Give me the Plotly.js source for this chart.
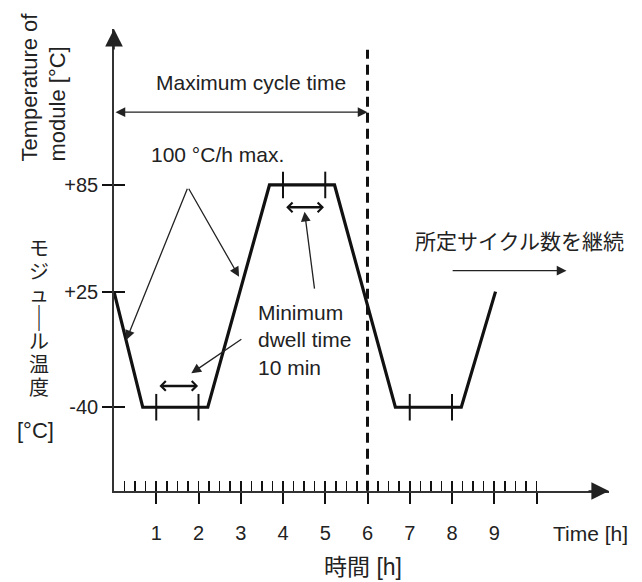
<!DOCTYPE html>
<html><head><meta charset="utf-8">
<script src="https://cdn.plot.ly/plotly-3.0.1.min.js"></script>
<style>html,body{margin:0;padding:0;background:#fff}</style>
</head><body><div id="chart" style="width:642px;height:582px"></div>
<script>
// ---- data ----
const profileTime = [0, 0.68, 2.22, 3.68, 5.22, 6.66, 8.22, 9.03];
const profileTemp = [25, -40, -40, 85, 85, -40, -40, 25];
const dwellMarkTime = [1, 2, 4, 5, 7, 8];
const dwellMarkTemp = [-40, -40, 85, 85, -40, -40];
const cycleLimitTime = [6, 6];
const cycleLimitTemp = [-87, 161];
const yTickVals = [-40, 25, 85];
const yTickText = ['-40', '+25', '+85'];
const xTickVals = [1, 2, 3, 4, 5, 6, 7, 8, 9, 10];
const xTickText = ['1', '2', '3', '4', '5', '6', '7', '8', '9', ''];
const yTitleJpChars = ['モ', 'ジ', 'ュ', '│', 'ル', '温', '度'];
const xRange = [0, 11.716];
const yRange = [-87.1, 172.7];

const xMinorVals = [];
for (let q = 1; q <= 40; q++) xMinorVals.push(q / 4);

const LAT = 'Liberation Sans, Arial, sans-serif';
const JP = '"Noto Sans CJK JP", sans-serif';
const INK = '#111';
const AX = '#333';

const traces = [
  { x: cycleLimitTime, y: cycleLimitTemp, mode: 'lines', type: 'scatter',
    line: { color: INK, width: 3, dash: '10px,6px' }, hoverinfo: 'skip' },
  { x: profileTime, y: profileTemp, mode: 'lines', type: 'scatter',
    line: { color: INK, width: 3.2 }, hoverinfo: 'skip' },
  { x: dwellMarkTime, y: dwellMarkTemp, mode: 'markers', type: 'scatter',
    xaxis: 'x2', yaxis: 'y2',
    marker: { symbol: 'line-ns', size: 19, color: INK, line: { color: INK, width: 2 } },
    hoverinfo: 'skip' }
];

function px2paperX(p) { return (p - 114) / 495; }
function px2paperY(p) { return (491 - p) / 462; }

const ann = [];
// axis arrowheads
ann.push({ xref: 'paper', yref: 'paper', x: 0, y: 1, ax: 0, ay: 22, text: '', showarrow: true,
  arrowhead: 2, arrowsize: 2.2, arrowwidth: 1.6, arrowcolor: '#222' });
ann.push({ xref: 'paper', yref: 'paper', x: 1, y: 0, ax: -22, ay: 0, text: '', showarrow: true,
  arrowhead: 2, arrowsize: 2.2, arrowwidth: 1.6, arrowcolor: '#222' });
// maximum cycle time
ann.push({ x: 6, y: 125.9, ax: 0, ay: 125.9, axref: 'x', ayref: 'y', text: '', showarrow: true,
  arrowside: 'end+start', arrowhead: 2, startarrowhead: 2, arrowsize: 1.5, startarrowsize: 1.5,
  arrowwidth: 1.3, arrowcolor: '#222' });
ann.push({ x: 3.25, y: 142.7, xanchor: 'center', yanchor: 'middle', text: 'Maximum cycle time', showarrow: false,
  font: { family: LAT, size: 21, color: '#222' } });
// 100 °C/h max.
ann.push({ x: 2.46, y: 101.9, xanchor: 'center', yanchor: 'middle', text: '100 °C/h max.', showarrow: false,
  font: { family: LAT, size: 21, color: '#222' } });
ann.push({ x: 0.29, y: -2.2, ax: 1.75, ay: 83.7, axref: 'x', ayref: 'y', text: '', showarrow: true,
  arrowhead: 2, arrowsize: 1.5, arrowwidth: 1.3, arrowcolor: '#222' });
ann.push({ x: 2.96, y: 33.4, ax: 1.75, ay: 83.7, axref: 'x', ayref: 'y', text: '', showarrow: true,
  arrowhead: 2, arrowsize: 1.5, arrowwidth: 1.3, arrowcolor: '#222' });
// dwell double arrows
ann.push({ x: 1.99, y: -28, ax: 1.04, ay: -28, axref: 'x', ayref: 'y', text: '', showarrow: true,
  arrowside: 'end+start', arrowhead: 4, startarrowhead: 4, arrowsize: 0.75, startarrowsize: 0.75,
  arrowwidth: 2.5, arrowcolor: INK });
ann.push({ x: 4.97, y: 72.4, ax: 4.04, ay: 72.4, axref: 'x', ayref: 'y', text: '', showarrow: true,
  arrowside: 'end+start', arrowhead: 4, startarrowhead: 4, arrowsize: 0.75, startarrowsize: 0.75,
  arrowwidth: 2.5, arrowcolor: INK });
// minimum dwell time
ann.push({ x: 3.35, y: -2.2, xanchor: 'left', yanchor: 'middle', align: 'left',
  text: 'Minimum<br>dwell time<br>10 min', showarrow: false,
  font: { family: LAT, size: 21, color: '#222' } });
ann.push({ x: 4.51, y: 70, ax: 4.75, ay: 25.9, axref: 'x', ayref: 'y', text: '', showarrow: true,
  arrowhead: 2, arrowsize: 1.5, arrowwidth: 1.3, arrowcolor: '#222' });
ann.push({ x: 1.83, y: -20.9, ax: 3.05, ay: -1.2, axref: 'x', ayref: 'y', text: '', showarrow: true,
  arrowhead: 2, arrowsize: 1.5, arrowwidth: 1.3, arrowcolor: '#222' });
// continue cycles
ann.push({ x: 9.60, y: 54, xanchor: 'center', yanchor: 'middle', text: '所定サイクル数を継続', showarrow: false,
  font: { family: JP, size: 21, color: '#222' } });
ann.push({ x: 10.71, y: 36.8, ax: 7.98, ay: 36.8, axref: 'x', ayref: 'y', text: '', showarrow: true,
  arrowhead: 2, arrowsize: 1.5, arrowwidth: 1.3, arrowcolor: '#222' });
// axis titles
ann.push({ xref: 'paper', yref: 'paper', x: px2paperX(43), y: px2paperY(87.5), xanchor: 'center', yanchor: 'middle',
  text: 'Temperature of<br>module [°C]', textangle: -90, align: 'left', showarrow: false,
  font: { family: LAT, size: 22, color: '#222' } });
// vertical Japanese title, one character per line slot
const jpTop = 247, jpPitch = 23.3;
yTitleJpChars.forEach(function (ch, i) {
  ann.push({ xref: 'paper', yref: 'paper', x: px2paperX(39), y: px2paperY(jpTop + i * jpPitch),
    xanchor: 'center', yanchor: 'middle', text: ch, showarrow: false,
    font: { family: JP, size: ch === '│' ? 26 : 20, color: '#222' } });
});
ann.push({ xref: 'paper', yref: 'paper', x: px2paperX(35), y: px2paperY(430), xanchor: 'center', yanchor: 'middle',
  text: '[°C]', showarrow: false, font: { family: LAT, size: 22, color: '#222' } });
ann.push({ xref: 'paper', yref: 'paper', x: px2paperX(590.5), y: px2paperY(533), xanchor: 'center', yanchor: 'middle',
  text: 'Time [h]', showarrow: false, font: { family: LAT, size: 21, color: '#222' } });
ann.push({ xref: 'paper', yref: 'paper', x: px2paperX(363), y: px2paperY(567), xanchor: 'center', yanchor: 'middle',
  text: '時間 [h]', showarrow: false, font: { family: LAT + ', "Noto Sans CJK JP"', size: 23, color: '#222' } });

const layout = {
  width: 642, height: 582,
  margin: { l: 114, r: 33, t: 29, b: 91, pad: 0 },
  paper_bgcolor: '#fff', plot_bgcolor: '#fff',
  showlegend: false,
  xaxis: { range: xRange, showgrid: false, zeroline: false, showline: true, linecolor: AX, linewidth: 1.8,
    tickmode: 'array', tickvals: xTickVals, ticktext: xTickText, ticks: 'outside', ticklen: 11,
    tickwidth: 2, tickcolor: INK, ticklabelstandoff: 12,
    tickfont: { family: LAT, size: 20, color: '#222' }, fixedrange: true },
  yaxis: { range: yRange, showgrid: false, zeroline: false, showline: true, linecolor: AX, linewidth: 1.8,
    tickmode: 'array', tickvals: yTickVals, ticktext: yTickText, ticks: 'outside', ticklen: 10,
    tickwidth: 1.8, tickcolor: INK,
    tickfont: { family: LAT, size: 20, color: '#222' }, fixedrange: true },
  xaxis2: { overlaying: 'x', anchor: 'y2', side: 'bottom', range: xRange, showgrid: false, zeroline: false,
    showline: false, tickmode: 'array', tickvals: xMinorVals, ticks: 'inside', ticklen: 10,
    tickwidth: 1.6, tickcolor: INK, showticklabels: false, fixedrange: true },
  yaxis2: { overlaying: 'y', anchor: 'x2', side: 'left', range: yRange, showgrid: false, zeroline: false,
    showline: false, tickmode: 'array', tickvals: yTickVals, ticks: 'inside', ticklen: 11,
    tickwidth: 1.8, tickcolor: INK, showticklabels: false, fixedrange: true },
  annotations: ann
};

Plotly.newPlot('chart', traces, layout, { staticPlot: true, displayModeBar: false });
</script>
</body></html>
